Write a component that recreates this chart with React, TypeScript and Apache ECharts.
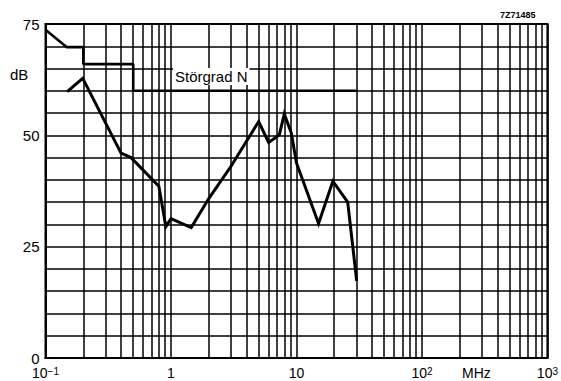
import React, { useEffect, useRef } from "react";
import * as echarts from "echarts";

// Limit curve "Störgrad N" (MHz, dB)
const limitFreq = [0.1, 0.148, 0.2, 0.2, 0.5, 0.5, 30];
const limitDb = [73.7, 69.8, 69.8, 66, 66, 60, 60];

// Measured curve (MHz, dB)
const measFreq = [0.149, 0.198, 0.4, 0.48, 0.8, 0.91, 1.0, 1.45, 2.0, 3.0, 5.0, 6.0, 7.3, 8.0, 9.1, 10.0, 15.0, 19.5, 25.6, 30.2];
const measDb = [59.8, 62.8, 46, 45, 38.6, 29.5, 31.3, 29.3, 35.8, 43, 53.1, 48.4, 50.1, 54.8, 50.5, 43.8, 30.2, 39.7, 35, 17.3];

// Log grid decades and multipliers
const decades = [0.1, 1, 10, 100];
const multipliers = [2, 3, 4, 5, 6, 7, 8, 9];
const yLabels = [0, 25, 50, 75];

const supMap: Record<number, string> = { [-1]: "10{s|−1}", 0: "1", 1: "10", 2: "10{s|2}", 3: "10{s|3}" };

export default function App() {
  const ref = useRef<HTMLDivElement>(null);
  useEffect(() => {
    if (!ref.current) return;
    const chart = echarts.init(ref.current, undefined, { renderer: "svg" });
    const minorLines: any[] = [];
    decades.forEach((d) => multipliers.forEach((m) => minorLines.push({ xAxis: +(d * m).toPrecision(6) })));
    const font = "Liberation Sans";
    chart.setOption({
      animation: false,
      backgroundColor: "#ffffff",
      grid: { left: 45.5, right: 13, top: 24, bottom: 22, show: true, borderColor: "#000", borderWidth: 2, backgroundColor: "transparent" },
      xAxis: {
        type: "log",
        logBase: 10,
        min: 0.1,
        max: 1000,
        axisLine: { lineStyle: { color: "#000", width: 2 } },
        axisTick: { show: false },
        splitLine: { show: true, lineStyle: { color: "#000", width: 1.5 } },
        axisLabel: {
          color: "#000",
          fontFamily: font,
          fontSize: 14,
          lineHeight: 14,
          margin: 8,
          formatter: (v: number) => supMap[Math.round(Math.log10(v))] ?? "",
          rich: { s: { fontSize: 10, lineHeight: 14, verticalAlign: "top", padding: [0, 0, 5, 0], color: "#000", fontFamily: font } },
        },
      },
      yAxis: {
        type: "value",
        min: 0,
        max: 75,
        interval: 5,
        axisLine: { show: true, lineStyle: { color: "#000", width: 2 } },
        axisTick: { show: false },
        splitLine: { show: true, lineStyle: { color: "#000", width: 1.5 } },
        axisLabel: {
          color: "#000",
          fontFamily: font,
          fontSize: 15,
          lineHeight: 13,
          margin: 6,
          formatter: (v: number) => (yLabels.includes(v) ? String(v) : ""),
        },
      },
      series: [
        {
          type: "line",
          data: [],
          silent: true,
          markLine: {
            silent: true,
            symbol: "none",
            label: { show: false },
            lineStyle: { color: "#000", width: 1.5, type: "solid" },
            data: minorLines,
          },
        },
        {
          type: "line",
          data: limitFreq.map((f, i) => [f, limitDb[i]]),
          showSymbol: false,
          symbol: "none",
          lineStyle: { color: "#000", width: 2.6 },
          z: 3,
        },
        {
          type: "line",
          data: measFreq.map((f, i) => [f, measDb[i]]),
          showSymbol: false,
          symbol: "none",
          lineStyle: { color: "#000", width: 3, join: "miter" },
          z: 3,
        },
      ],
      graphic: [
        { type: "text", left: 10, top: 67, style: { text: "dB", fill: "#000", font: `15px ${font}` } },
        { type: "text", left: 462, top: 366, style: { text: "MHz", fill: "#000", font: `14px ${font}` } },
        { type: "text", left: 500, top: 10, style: { text: "7Z71485", fill: "#000", font: `bold 9px ${font}` } },
        {
          type: "text",
          left: 173,
          top: 68,
          z: 10,
          style: { text: "Störgrad N", fill: "#000", font: `15px ${font}`, backgroundColor: "#fff", padding: [1, 2, 1, 2] },
        },
      ],
    });
    return () => chart.dispose();
  }, []);
  return <div ref={ref} style={{ position: "fixed", left: 0, top: 0, width: 561, height: 381, background: "#fff" }} />;
}
